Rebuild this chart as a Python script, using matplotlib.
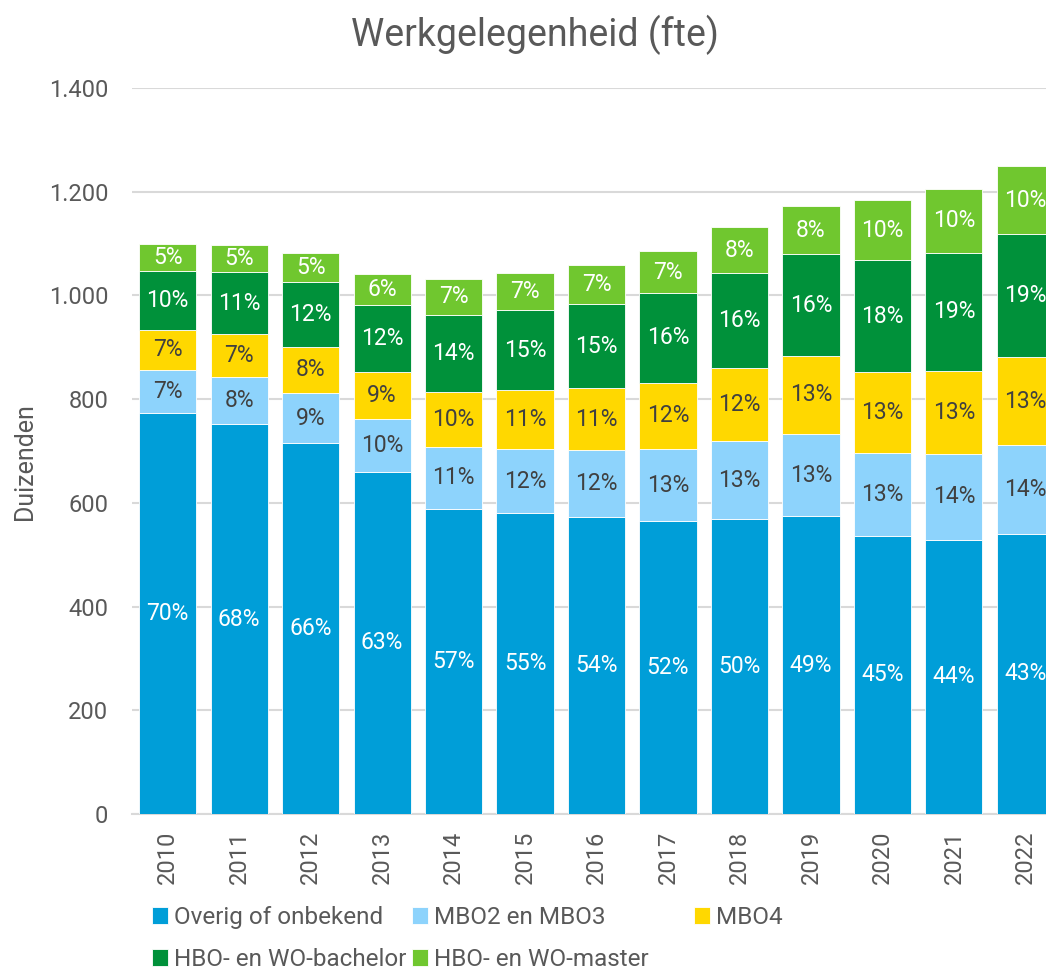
import matplotlib
matplotlib.use('Agg')
import matplotlib.pyplot as plt
import numpy as np

plt.rcParams['font.family'] = ['Roboto', 'DejaVu Sans']

# data (duizenden fte)
years = ['2010', '2011', '2012', '2013', '2014', '2015', '2016',
         '2017', '2018', '2019', '2020', '2021', '2022']
overig = [774, 752, 715, 660, 589, 580, 572, 565, 568, 574, 537, 529, 540]
mbo23 = [82, 91, 97, 101, 118, 123, 130, 138, 151, 159, 159, 165, 171]
mbo4 = [78, 82, 89, 92, 107, 114, 119, 129, 141, 151, 156, 161, 170]
bachelor = [114, 120, 125, 128, 149, 155, 162, 172, 183, 195, 216, 227, 237]
master = [52, 53, 56, 60, 69, 72, 75, 81, 88, 94, 116, 124, 131]

# percentage labels as shown
pct_overig = [70, 68, 66, 63, 57, 55, 54, 52, 50, 49, 45, 44, 43]
pct_mbo23 = [7, 8, 9, 10, 11, 12, 12, 13, 13, 13, 13, 14, 14]
pct_mbo4 = [7, 7, 8, 9, 10, 11, 11, 12, 12, 13, 13, 13, 13]
pct_bachelor = [10, 11, 12, 12, 14, 15, 15, 16, 16, 16, 18, 19, 19]
pct_master = [5, 5, 5, 6, 7, 7, 7, 7, 8, 8, 10, 10, 10]

names = ['Overig of onbekend', 'MBO2 en MBO3', 'MBO4',
         'HBO- en WO-bachelor', 'HBO- en WO-master']
series = [overig, mbo23, mbo4, bachelor, master]
pcts = [pct_overig, pct_mbo23, pct_mbo4, pct_bachelor, pct_master]
colors = ['#009ED8', '#8DD3FC', '#FFD800', '#00913A', '#70C72F']
txtcol = ['white', '#404040', '#404040', 'white', 'white']

grey = '#595959'

fig = plt.figure(figsize=(10.46, 9.72), dpi=100)
ax = fig.add_axes([132/1046, 1-814/972, 13*71.47/1046, (814-88)/972])

x = np.arange(len(years))
bottom = np.zeros(len(years))
handles = []
for vals, pc, col, tc, name in zip(series, pcts, colors, txtcol, names):
    vals = np.array(vals, dtype=float)
    b = ax.bar(x, vals, 0.8, bottom=bottom, color=col, edgecolor='white',
               linewidth=0.6, label=name, zorder=3)
    handles.append(b)
    for xi, v, bt, p in zip(x, vals, bottom, pc):
        ax.text(xi, bt + v/2, f'{p}%', ha='center', va='center',
                color=tc, fontsize=16.5, zorder=4)
    bottom += vals

ax.set_xlim(-0.5, 12.5)
ax.set_ylim(0, 1400)
ax.set_yticks(range(0, 1401, 200))
ax.set_yticklabels([f'{v:,}'.replace(',', '.') for v in range(0, 1401, 200)])
ax.set_xticks(x)
ax.set_xticklabels(years, rotation=90)
ax.tick_params(length=0, labelsize=17, colors=grey)
ax.tick_params(axis='y', pad=17)
ax.tick_params(axis='x', pad=12)
ax.yaxis.grid(True, color='#D9D9D9', linewidth=1.5, zorder=0)
for s in ['top', 'right', 'left']:
    ax.spines[s].set_visible(False)
ax.spines['bottom'].set_color('#D9D9D9')
ax.spines['bottom'].set_linewidth(1.5)
ax.set_axisbelow(True)

fig.text(25/1046, 1-462/972, 'Duizenden', rotation=90, ha='center',
         va='center', fontsize=18, color=grey)
fig.text(535/1046, 1-35/972, 'Werkgelegenheid (fte)', ha='center',
         va='center', fontsize=27, color=grey)

# legend: one column at a time, placed like the original
cols = [([0, 3], 152), ([1, 4], 412), ([2], 694)]
for idx, xpos in cols:
    leg = fig.legend([handles[i] for i in idx], [names[i] for i in idx],
                     loc='upper left', bbox_to_anchor=(xpos/1046, 1-906/972),
                     frameon=False, fontsize=17.5, handlelength=0.65,
                     handleheight=0.65, handletextpad=0.25,
                     labelspacing=0.78, borderaxespad=0, borderpad=0)
    for t in leg.get_texts():
        t.set_color(grey)

fig.savefig('out.png', dpi=100)
